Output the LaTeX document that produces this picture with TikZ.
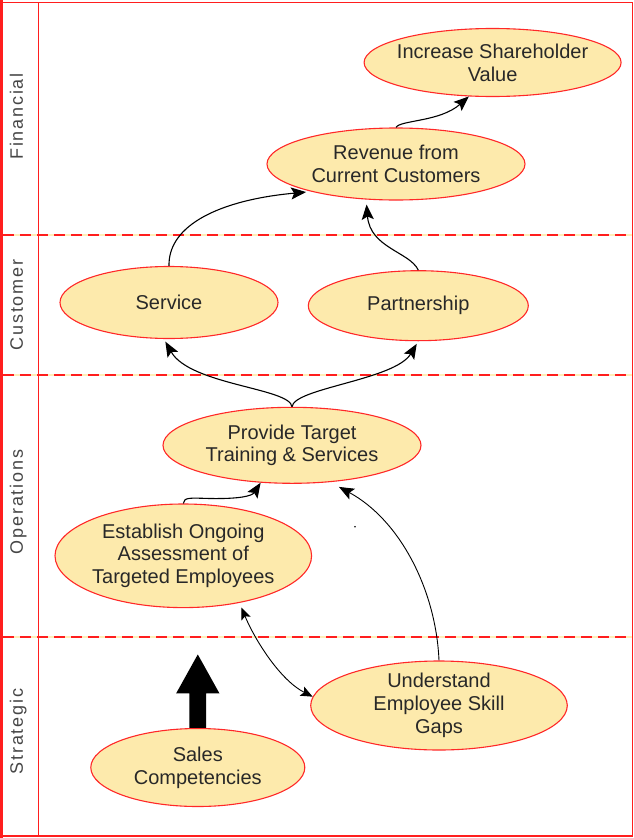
\documentclass[tikz,border=0pt]{standalone}
\usepackage{fontspec}
\newfontfamily\nodefont{Liberation Sans}
\newfontfamily\lanefont[LetterSpace=10]{Liberation Sans}
\usetikzlibrary{arrows.meta,shapes.geometric}
\definecolor{ellfill}{RGB}{253,234,172}
\definecolor{ellred}{RGB}{255,40,40}
\definecolor{framered}{RGB}{255,30,30}
\definecolor{paleyellow}{RGB}{255,238,185}
\definecolor{txt}{RGB}{40,40,40}
\definecolor{lanetxt}{RGB}{70,70,70}
\begin{document}
\begin{tikzpicture}[x=1pt,y=-1pt,
  goal/.style={ellipse, draw=ellred, line width=1.1pt, fill=ellfill,
    inner xsep=-15pt, inner ysep=-8pt, align=center, text=txt,
    font=\nodefont\fontsize{20}{22.7}\selectfont},
  lanelabel/.style={rotate=90, anchor=base, text=lanetxt,
    font=\lanefont\fontsize{18}{20}\selectfont},
  link/.style={draw=black, line width=1.1pt, -{Stealth[length=15pt,width=12pt,inset=3pt]}},
  thinlink/.style={draw=black, line width=0.9pt},
  lanesep/.style={line width=2pt}
]
\useasboundingbox (0,0) rectangle (634,838);

% frame
\draw[framered, line width=1.5pt] (1.5,2.5) -- (632.5,2.5) -- (632.5,836) -- (1.5,836);
\draw[framered, line width=3pt] (1.5,0) -- (1.5,838);
\draw[framered, line width=1.2pt] (38.5,2.5) -- (38.5,836);

% lane separators
\foreach \yy in {235,375,637} {
  \draw[lanesep, paleyellow] (3,\yy) -- (632,\yy);
  \draw[lanesep, framered, dash pattern=on 11pt off 6pt] (3,\yy) -- (632,\yy);
}

% lane labels
\node[lanelabel] (lfin) at (23,116.5) {Financial};
\node[lanelabel] (lcus) at (23,305) {Customer};
\node[lanelabel] (lops) at (23,502) {Operations};
\node[lanelabel] (lstr) at (23,731.5) {Strategic};

% goals
\node[goal, minimum width=257pt, minimum height=68pt] (inc) at (492.6,62.5) {Increase Shareholder\\Value};
\node[goal, minimum width=258pt, minimum height=72pt] (rev) at (396,164) {Revenue from\\Current Customers};
\node[goal, minimum width=218pt, minimum height=72pt] (serv) at (169,302.5) {Service};
\node[goal, minimum width=220pt, minimum height=70pt] (part) at (418.3,305.7) {Partnership};
\node[goal, minimum width=258pt, minimum height=76pt] (prov) at (292,445.3) {Provide Target\\Training \& Services};
\node[goal, minimum width=256.6pt, minimum height=103.6pt] (est) at (183.3,555.8) {Establish Ongoing\\Assessment of\\Targeted Employees};
\node[goal, minimum width=256.6pt, minimum height=89pt] (und) at (439,705.5) {Understand\\Employee Skill\\Gaps};
\node[goal, minimum width=214pt, minimum height=78pt] (sales) at (197.8,767.5) {Sales\\Competencies};

% connectors
\draw[link] (rev.north) .. controls (400,120) and (440,122) .. (inc.-125);
\draw[link, shorten >=5pt] (serv.north) .. controls (168,225) and (220,200) .. (rev.-162);
\draw[link, shorten >=5pt] (part.north) .. controls (410,252) and (370,248) .. (rev.-130);
\draw[link, shorten >=3pt] (prov.north) .. controls (290,388) and (190,385) .. (serv.-98);
\draw[link, shorten >=3pt] (prov.north) .. controls (294,388) and (395,380) .. (part.south);
\draw[link] (est.north) .. controls (184,497) and (190,498) .. (210,498.5)
  .. controls (240,499) and (252,496) .. (prov.-130);
\draw[link, line width=0.9pt, shorten >=10pt] (und.north) .. controls (436,590) and (400,520) .. (prov.-44);
\draw[thinlink, {Stealth[length=12pt,width=10pt,inset=2.5pt]}-{Stealth[length=12pt,width=10pt,inset=2.5pt]}, shorten <=5pt]
  (est.-40) .. controls (255,640) and (280,680) .. (und.176);

% stray dot
\fill[black] (355,526.7) circle (0.9pt);

% block arrow from Sales Competencies
\fill[black] ([xshift=-8.4pt]sales.north) -- ([xshift=-8.4pt,yshift=34.5pt]sales.north)
  -- ([xshift=-21.7pt,yshift=34.5pt]sales.north) -- ([yshift=73.5pt]sales.north)
  -- ([xshift=21.7pt,yshift=34.5pt]sales.north) -- ([xshift=8.4pt,yshift=34.5pt]sales.north)
  -- ([xshift=8.4pt]sales.north) -- cycle;
\end{tikzpicture}
\end{document}
